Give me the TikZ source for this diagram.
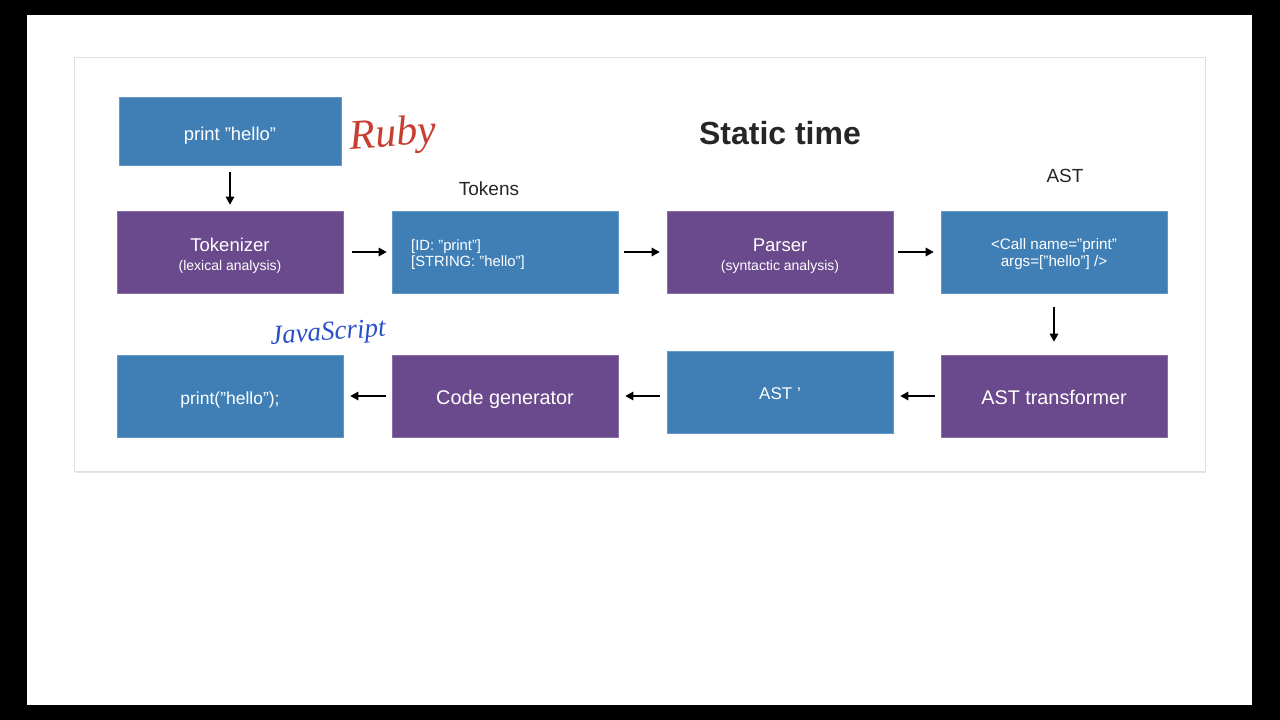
\documentclass[tikz,border=0pt]{standalone}
\usepackage{fontspec}
\setmainfont{Liberation Sans}
\newfontfamily\handfont{Liberation Serif}
\usetikzlibrary{arrows.meta}
\definecolor{boxblue}{RGB}{63,127,182}
\definecolor{boxpurple}{RGB}{106,74,140}
\definecolor{inkred}{RGB}{200,62,50}
\definecolor{inkblue}{RGB}{40,80,200}
\tikzset{
  boxb/.style={rectangle, fill=boxblue, draw=boxblue!80!white, line width=0.6pt, minimum width=226pt, minimum height=82pt, inner sep=0pt, text=white, align=center, text depth=0pt, text height=16pt},
  boxp/.style={rectangle, fill=boxpurple, draw=boxpurple!80!white, line width=0.6pt, minimum width=226pt, minimum height=82pt, inner sep=0pt, text=white, align=center, text depth=0pt, text height=16pt},
  twoline/.style={text height=, text depth=},
  arr/.style={draw=black, line width=1.4pt, -{Triangle[length=8pt,width=8.5pt]}},
  lbl/.style={text=black!85, inner sep=0pt}
}
\begin{document}
\begin{tikzpicture}[x=1pt,y=-1pt]
\useasboundingbox (0,0) rectangle (1280,720);
\fill[black] (0,0) rectangle (1280,720);
\fill[white] (27,15) rectangle (1252,705);
\fill[black!10] (75,59) rectangle (1206,473);
\filldraw[fill=white, draw=black!12] (74,57) rectangle (1205,471);

\node[boxb, minimum width=222pt, minimum height=68pt, text height=18pt, font=\fontsize{18.4}{21}\selectfont] (p1) at (230,131) {print "hello"};
\node[boxp, twoline, font=\fontsize{18.5}{19}\selectfont] (tok) at (230,252) {\rule{0pt}{20pt}Tokenizer\\{\fontsize{14}{17}\selectfont (lexical analysis)}};
\node[boxb] (tks) at (505,252) {};
\node[text=white, align=left, anchor=west, inner sep=0pt, font=\fontsize{14.8}{16.5}\selectfont] (tkstext) at (411,252) {\rule{0pt}{15.6pt}{[ID: "print"]}\\{}{[STRING: "hello"]}};
\node[boxp, twoline, font=\fontsize{18.5}{19}\selectfont] (par) at (780,252) {\rule{0pt}{20pt}Parser\\{\fontsize{14}{17}\selectfont (syntactic analysis)}};
\node[boxb, twoline, font=\fontsize{15.2}{17}\selectfont] (ast) at (1054,252) {\rule{0pt}{16pt}<Call name="print"\\{}args=["hello"] />};
\node[boxp, font=\fontsize{19.8}{22}\selectfont] (tr) at (1054,396) {AST transformer};
\node[boxb, text height=14pt, font=\fontsize{17}{20}\selectfont] (ast2) at (780,392) {AST '};
\node[boxp, font=\fontsize{19.8}{22}\selectfont] (cg) at (505,396) {Code generator};
\node[boxb, font=\fontsize{17.5}{20}\selectfont] (js) at (230,396) {print("hello");};

\node[lbl, font=\bfseries\fontsize{32}{36}\selectfont] (title) at (780,133) {Static time};
\node[lbl, font=\fontsize{19}{22}\selectfont] (ltok) at (489,189) {Tokens};
\node[lbl, font=\fontsize{19}{22}\selectfont] (last) at (1065,176) {AST};

\node[text=inkred, font=\handfont\itshape\fontsize{42}{46}\selectfont, inner sep=0pt, rotate=4] (ruby) at (393,136) {Ruby};
\node[text=inkblue, font=\handfont\itshape\fontsize{27}{30}\selectfont, inner sep=0pt, rotate=4] (jsl) at (328,334) {JavaScript};

\draw[arr, shorten <=7pt, shorten >=6pt] (p1) -- (tok);
\draw[arr, shorten <=9pt, shorten >=5pt] (tok) -- (tks);
\draw[arr, shorten <=6pt, shorten >=7pt] (tks) -- (par);
\draw[arr, shorten <=5pt, shorten >=7pt] (par) -- (ast);
\draw[arr, shorten <=14pt, shorten >=13pt] (ast) -- (tr);
\draw[arr, shorten <=6pt, shorten >=7pt] (tr.west) -- (tr.west -| ast2.east);
\draw[arr, shorten <=7pt, shorten >=7pt] (ast2.west |- cg.east) -- (cg.east);
\draw[arr, shorten <=6pt, shorten >=7pt] (cg) -- (js);
\end{tikzpicture}
\end{document}
